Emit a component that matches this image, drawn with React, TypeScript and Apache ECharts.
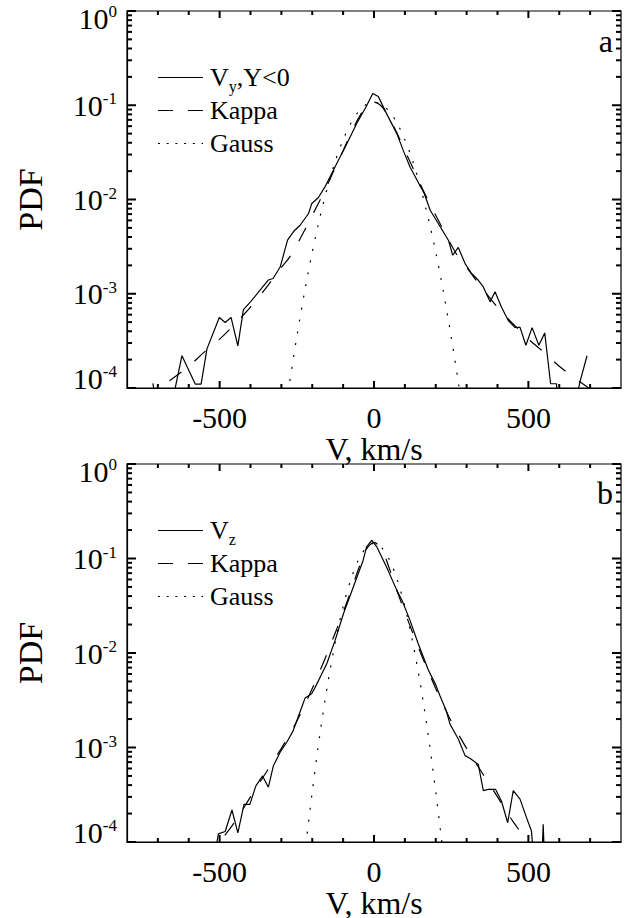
import React, { useEffect, useRef } from 'react';
import * as echarts from 'echarts';

const FONT = "'Liberation Serif', 'Times New Roman', Times, serif";

// ---------- Panel a : V_y, Y<0 ----------
const vyVel = [-716, -700, -650, -622, -579, -560, -541, -501, -482, -463, -441, -423, -400, -369, -342, -327, -304, -280, -260, -240, -212, -202, -180, -159, -121, -88, -56, -26, -4, 14, 41, 74, 95, 117, 163, 182, 215, 241, 255, 273, 295, 316, 338, 354, 376, 392, 413, 435, 456, 473, 492, 512, 534, 553, 572, 591, 597, 645, 667, 690];
const vyPdf = [1.12e-4, 5e-5, 8e-5, 2.2e-4, 1.1e-4, 1.1e-4, 2.6e-4, 5.6e-4, 4.95e-4, 5.6e-4, 2.8e-4, 6.8e-4, 8.2e-4, 1.09e-3, 1.4e-3, 1.45e-3, 1.92e-3, 3.7e-3, 4.6e-3, 5.3e-3, 7.1e-3, 9.0e-3, 1.05e-2, 1.36e-2, 2.4e-2, 3.9e-2, 6.4e-2, 9.6e-2, 0.133, 0.124, 8.1e-2, 5.0e-2, 3.3e-2, 2.2e-2, 1.15e-2, 7.7e-3, 5.1e-3, 3.7e-3, 2.56e-3, 3.1e-3, 2.09e-3, 1.64e-3, 1.39e-3, 1.18e-3, 8.2e-4, 1.05e-3, 7.2e-4, 5.2e-4, 4.4e-4, 4.4e-4, 2.84e-4, 4.37e-4, 2.84e-4, 3.84e-4, 1.11e-4, 1.11e-4, 5e-5, 5e-5, 1.16e-4, 2.2e-4];

const kappaAVel = [-750, -700, -650, -600, -550, -500, -450, -400, -350, -300, -275, -250, -225, -200, -175, -150, -125, -100, -75, -50, -25, 0, 25, 50, 75, 100, 125, 150, 175, 200, 225, 250, 275, 300, 350, 400, 450, 500, 550, 600, 650, 700, 750];
const kappaAPdf = [7.8e-5, 9.8e-5, 1.28e-4, 1.7e-4, 2.4e-4, 3.3e-4, 4.8e-4, 7.2e-4, 1.15e-3, 1.9e-3, 2.4e-3, 3.3e-3, 4.7e-3, 6.8e-3, 9.8e-3, 1.45e-2, 2.2e-2, 3.3e-2, 5.0e-2, 7.3e-2, 9.7e-2, 0.108, 9.7e-2, 7.3e-2, 5.0e-2, 3.3e-2, 2.2e-2, 1.45e-2, 9.8e-3, 6.8e-3, 4.7e-3, 3.3e-3, 2.4e-3, 1.9e-3, 1.15e-3, 7.2e-4, 4.8e-4, 3.3e-4, 2.4e-4, 1.7e-4, 1.28e-4, 9.8e-5, 7.8e-5];

const gaussAVel = [-300, -275, -250, -225, -200, -175, -150, -125, -100, -75, -50, -25, 0, 25, 50, 75, 100, 125, 150, 175, 200, 225, 250, 275, 300];
const gaussAPdf = [2.8e-5, 1.05e-4, 3.5e-4, 1.04e-3, 2.76e-3, 6.5e-3, 1.37e-2, 2.58e-2, 4.31e-2, 6.44e-2, 8.57e-2, 0.102, 0.108, 0.102, 8.57e-2, 6.44e-2, 4.31e-2, 2.58e-2, 1.37e-2, 6.5e-3, 2.76e-3, 1.04e-3, 3.5e-4, 1.05e-4, 2.8e-5];

// ---------- Panel b : V_z ----------
const vzVel = [-525, -504, -482, -460, -441, -421, -402, -383, -361, -342, -326, -304, -283, -262, -240, -223, -202, -191, -153, -126, -99, -67, -35, -24, -7, 9, 41, 74, 91, 117, 143, 176, 200, 214, 235, 246, 273, 295, 313, 338, 354, 370, 394, 413, 433, 451, 473, 494, 510, 525, 540, 548, 556];
const vzPdf = [5e-5, 1.22e-4, 1.29e-4, 2.18e-4, 1.25e-4, 2.5e-4, 2.5e-4, 3.9e-4, 5.0e-4, 3.8e-4, 6.4e-4, 8.9e-4, 1.13e-3, 1.5e-3, 2.36e-3, 3.35e-3, 3.7e-3, 4.3e-3, 7.7e-3, 1.36e-2, 2.6e-2, 5.0e-2, 9.6e-2, 0.133, 0.156, 0.133, 8.1e-2, 4.6e-2, 3.6e-2, 2.2e-2, 1.26e-2, 6.6e-3, 4.6e-3, 3.5e-3, 2.4e-3, 1.77e-3, 1.23e-3, 8.2e-4, 7.6e-4, 6.6e-4, 3.5e-4, 3.6e-4, 3.6e-4, 2.7e-4, 1.6e-4, 3.5e-4, 2.84e-4, 1.81e-4, 1.31e-4, 3e-5, 3e-5, 1.54e-4, 3e-5];

const kappaBVel = [-550, -500, -450, -400, -350, -300, -275, -250, -225, -200, -175, -150, -125, -100, -75, -50, -25, 0, 25, 50, 75, 100, 125, 150, 175, 200, 225, 250, 275, 300, 350, 400, 450, 500, 550];
const kappaBPdf = [6.5e-5, 1.0e-4, 1.65e-4, 3.0e-4, 5.4e-4, 9.8e-4, 1.35e-3, 1.9e-3, 2.8e-3, 4.2e-3, 6.5e-3, 1.02e-2, 1.65e-2, 2.7e-2, 4.5e-2, 7.8e-2, 0.125, 0.148, 0.125, 7.8e-2, 4.5e-2, 2.7e-2, 1.65e-2, 1.02e-2, 6.5e-3, 4.2e-3, 2.8e-3, 1.9e-3, 1.35e-3, 9.8e-4, 5.4e-4, 3.0e-4, 1.65e-4, 1.0e-4, 6.5e-5];

const gaussBVel = [-250, -225, -200, -175, -150, -125, -100, -75, -50, -25, 0, 25, 50, 75, 100, 125, 150, 175, 200, 225, 250];
const gaussBPdf = [1.2e-5, 7e-5, 3.4e-4, 1.4e-3, 4.7e-3, 1.32e-2, 3.1e-2, 6.0e-2, 9.7e-2, 0.13, 0.145, 0.13, 9.7e-2, 6.0e-2, 3.1e-2, 1.32e-2, 4.7e-3, 1.4e-3, 3.4e-4, 7e-5, 1.2e-5];

// ---------- Ticks ----------
const xMajorTicks = [-500, 0, 500];
const xMinorTicks = [-700, -600, -400, -300, -200, -100, 100, 200, 300, 400, 600, 700];
const yMajorTicks = [1e-4, 1e-3, 1e-2, 1e-1, 1];
const yMinorTicks = [
  2e-4, 3e-4, 4e-4, 5e-4, 6e-4, 7e-4, 8e-4, 9e-4,
  2e-3, 3e-3, 4e-3, 5e-3, 6e-3, 7e-3, 8e-3, 9e-3,
  2e-2, 3e-2, 4e-2, 5e-2, 6e-2, 7e-2, 8e-2, 9e-2,
  2e-1, 3e-1, 4e-1, 5e-1, 6e-1, 7e-1, 8e-1, 9e-1,
];

const legendA = ['Vy,Y<0', 'Kappa', 'Gauss'];
const legendB = ['Vz', 'Kappa', 'Gauss'];

const zip = (xs: number[], ys: number[]) => xs.map((x, i) => [x, ys[i]]);

const BLACK = '#000';
const LW = 1.2;
const TICK_LW = 2;
const KAPPA_DASH = [15, 17];
const GAUSS_DOT = [2, 10];
const X_MAJOR_LEN = 7, X_MINOR_LEN = 4, Y_MAJOR_LEN = 9, Y_MINOR_LEN = 5;

function xAxis(gridIndex: number) {
  return {
    gridIndex,
    type: 'value',
    position: 'bottom',
    min: -800,
    max: 800,
    splitLine: { show: false },
    axisLine: { show: true, onZero: false, lineStyle: { color: BLACK, width: LW } },
    axisTick: { show: false },
    axisLabel: { show: true, customValues: xMajorTicks, color: BLACK, fontSize: 30, fontFamily: FONT, margin: 14 },
    name: 'V, km/s',
    nameLocation: 'middle',
    nameGap: 56,
    nameTextStyle: { color: BLACK, fontSize: 32, fontFamily: FONT, verticalAlign: 'middle', lineHeight: 30 },
  };
}

function yLabelFormatter(value: number) {
  const e = Math.round(Math.log10(value));
  const core = `{b|10}{s|${e}}`;
  if (e === 0) return `{g| }\n${core}`;
  if (e === -4) return `${core}\n{h| }`;
  return core;
}

function yAxis(gridIndex: number) {
  return {
    gridIndex,
    type: 'log',
    logBase: 10,
    min: 1e-4,
    max: 1,
    position: 'left',
    splitLine: { show: false },
    axisLine: { show: true, onZero: false, lineStyle: { color: BLACK, width: LW } },
    axisTick: { show: false },
    axisLabel: {
      show: true,
      customValues: yMajorTicks,
      formatter: yLabelFormatter,
      margin: 10,
      color: BLACK,
      fontFamily: FONT,
      rich: {
        b: { fontSize: 30, fontFamily: FONT, color: BLACK },
        s: { fontSize: 17, fontFamily: FONT, color: BLACK, verticalAlign: 'top' },
        g: { fontSize: 10, lineHeight: 14, height: 14 },
        h: { fontSize: 10, lineHeight: 20, height: 20 },
      },
    },
    name: 'PDF',
    nameLocation: 'middle',
    nameRotate: 90,
    nameGap: 80,
    nameTextStyle: { color: BLACK, fontSize: 34, fontFamily: FONT },
  };
}

function lineSeries(name: string, data: number[][], axisIdx: number, dash: any, smooth: number | boolean) {
  return {
    name,
    type: 'line',
    xAxisIndex: axisIdx,
    yAxisIndex: axisIdx,
    data,
    symbol: 'none',
    showSymbol: false,
    smooth,
    clip: true,
    silent: true,
    lineStyle: { color: BLACK, width: LW, type: dash },
    itemStyle: { color: BLACK },
    emphasis: { disabled: true },
  };
}

const legendRich = {
  n: { fontSize: 26, fontFamily: FONT, color: BLACK },
  sub: { fontSize: 16, fontFamily: FONT, color: BLACK, verticalAlign: 'bottom', lineHeight: 8, height: 8 },
};
const legendText: Record<string, string> = {
  'Vy,Y<0': '{n|V}{sub|y}{n|,Y<0}',
  'Vz': '{n|V}{sub|z}',
  'Kappa': '{n|Kappa}',
  'Gauss': '{n|Gauss}',
};
const legendDash: Record<string, any> = {
  'Vy,Y<0': null,
  'Vz': null,
  'Kappa': [15, 15],
  'Gauss': [2, 6.7],
};

function legendGraphic(names: string[], firstRowY: number) {
  const children: any[] = [];
  names.forEach((nm, i) => {
    const y = firstRowY + i * 33;
    children.push({
      type: 'line',
      silent: true,
      shape: { x1: 158, y1: y + 0.5, x2: 203, y2: y + 0.5 },
      style: { stroke: BLACK, lineWidth: LW, lineDash: legendDash[nm] || undefined },
    });
    children.push({
      type: 'text',
      silent: true,
      x: 210,
      y,
      style: {
        text: legendText[nm],
        rich: legendRich,
        fontSize: 26,
        fontFamily: FONT,
        fill: BLACK,
        align: 'left',
        verticalAlign: 'middle',
      },
    });
  });
  return { type: 'group', children };
}

export default function App() {
  const ref = useRef<HTMLDivElement>(null);

  useEffect(() => {
    document.body.style.margin = '0';
    if (!ref.current) return;
    const chart = echarts.init(ref.current, undefined, { renderer: 'svg' });
    const gridBase = { left: 127, width: 494, show: true, borderColor: BLACK, borderWidth: LW, backgroundColor: 'transparent', outerBoundsMode: 'none', containLabel: false };
    const baseGraphic: any[] = [
      legendGraphic(legendA, 77),
      legendGraphic(legendB, 530),
      {
        type: 'text',
        x: 613,
        y: 41,
        silent: true,
        style: { text: 'a', fontSize: 32, fontFamily: FONT, fill: BLACK, align: 'right', verticalAlign: 'middle' },
      },
      {
        type: 'text',
        x: 613,
        y: 493,
        silent: true,
        style: { text: 'b', fontSize: 32, fontFamily: FONT, fill: BLACK, align: 'right', verticalAlign: 'middle' },
      },
    ];
    const option: any = {
      animation: false,
      backgroundColor: '#fff',
      grid: [
        { ...gridBase, top: 11, height: 377 },
        { ...gridBase, top: 464, height: 378 },
      ],
      xAxis: [xAxis(0), xAxis(1)],
      yAxis: [yAxis(0), yAxis(1)],
      series: [
        lineSeries('Vy,Y<0', zip(vyVel, vyPdf), 0, 'solid', false),
        lineSeries('Kappa', zip(kappaAVel, kappaAPdf), 0, KAPPA_DASH, 0.3),
        lineSeries('Gauss', zip(gaussAVel, gaussAPdf), 0, GAUSS_DOT, 0.3),
        lineSeries('Vz', zip(vzVel, vzPdf), 1, 'solid', false),
        lineSeries('Kappa', zip(kappaBVel, kappaBPdf), 1, KAPPA_DASH, 0.3),
        lineSeries('Gauss', zip(gaussBVel, gaussBPdf), 1, GAUSS_DOT, 0.3),
      ],
      graphic: baseGraphic,
    };
    chart.setOption(option);

    // inside tick marks on all four sides (IDL style), placed through the axes' own scales
    const tickEls: any[] = [];
    try {
      [0, 1].forEach((g) => {
        const finder = { gridIndex: g };
        const tl: any = chart.convertToPixel(finder as any, [-800, 1]);
        const br: any = chart.convertToPixel(finder as any, [800, 1e-4]);
        if (!tl || !br) return;
        const left = tl[0], top = tl[1], right = br[0], bottom = br[1];
        const addX = (v: number, len: number) => {
          const p: any = chart.convertToPixel(finder as any, [v, 1e-2]);
          const px = p[0];
          tickEls.push({ type: 'line', silent: true, shape: { x1: px, y1: bottom, x2: px, y2: bottom - len }, style: { stroke: BLACK, lineWidth: TICK_LW } });
          tickEls.push({ type: 'line', silent: true, shape: { x1: px, y1: top, x2: px, y2: top + len }, style: { stroke: BLACK, lineWidth: TICK_LW } });
        };
        const addY = (v: number, len: number) => {
          const p: any = chart.convertToPixel(finder as any, [0, v]);
          const py = p[1];
          tickEls.push({ type: 'line', silent: true, shape: { x1: left, y1: py, x2: left + len, y2: py }, style: { stroke: BLACK, lineWidth: TICK_LW } });
          tickEls.push({ type: 'line', silent: true, shape: { x1: right, y1: py, x2: right - len, y2: py }, style: { stroke: BLACK, lineWidth: TICK_LW } });
        };
        xMajorTicks.forEach((v) => addX(v, X_MAJOR_LEN));
        xMinorTicks.forEach((v) => addX(v, X_MINOR_LEN));
        yMajorTicks.forEach((v) => addY(v, Y_MAJOR_LEN));
        yMinorTicks.forEach((v) => addY(v, Y_MINOR_LEN));
      });
    } catch (e) {
      // ticks are decorative
    }
    chart.setOption({ graphic: [...baseGraphic, ...tickEls] });

    return () => chart.dispose();
  }, []);

  return <div ref={ref} style={{ width: 628, height: 918 }} />;
}
